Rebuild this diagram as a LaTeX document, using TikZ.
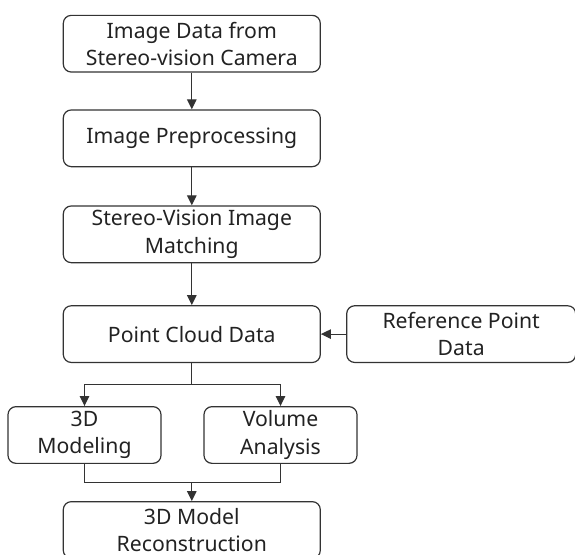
\documentclass[tikz,border=0pt]{standalone}
\usepackage{fontspec}
\setmainfont{Noto Sans}
\usetikzlibrary{arrows.meta}
\definecolor{linec}{HTML}{333333}
\definecolor{textc}{HTML}{222222}
\tikzset{
  box/.style={draw=linec, line width=1.2pt, rounded corners=8pt, inner sep=0pt,
    align=center, text=textc, font=\fontsize{21.2}{27.3}\selectfont,
    minimum height=56.7pt},
  wbox/.style={box, minimum width=257pt},
  sbox/.style={box, minimum width=153pt},
  conn/.style={draw=linec, line width=1.2pt},
  arr/.style={conn, -{Triangle[length=10pt,width=9.5pt]}}
}
\begin{document}
\begin{tikzpicture}[x=1pt,y=-1pt]
\useasboundingbox (0,0) rectangle (575,554);
\clip (0,0) rectangle (575,554);
\node[wbox] (b1) at (191.8,43.7) {Image Data from\\Stereo-vision Camera};
\node[wbox] (b2) at (191.8,138.3) {Image Preprocessing};
\node[wbox] (b3) at (191.8,234.3) {Stereo-Vision Image\\Matching};
\node[wbox] (pcd) at (191.8,334.1) {Point Cloud Data};
\node[box, minimum width=229pt] (ref) at (461.2,334.1) {Reference Point\\Data};
\node[sbox] (m3d) at (84.5,435) {3D\\Modeling};
\node[sbox] (vol) at (280.5,435) {Volume\\Analysis};
\node[wbox] (rec) at (191.8,530) {3D Model\\Reconstruction};
\coordinate (split) at (191.8,384.3);
\coordinate (merge) at (191.8,482.3);
\draw[arr] (b1) -- (b2);
\draw[arr] (b2) -- (b3);
\draw[arr] (b3) -- (pcd);
\draw[arr] (ref) -- (pcd);
\draw[conn] (pcd.south) -- (split);
\draw[arr] (split) -| (m3d.north);
\draw[arr] (split) -| (vol.north);
\draw[conn] (m3d.south) |- (merge);
\draw[conn] (vol.south) |- (merge);
\draw[arr] (merge) -- (rec.north);
\end{tikzpicture}
\end{document}
